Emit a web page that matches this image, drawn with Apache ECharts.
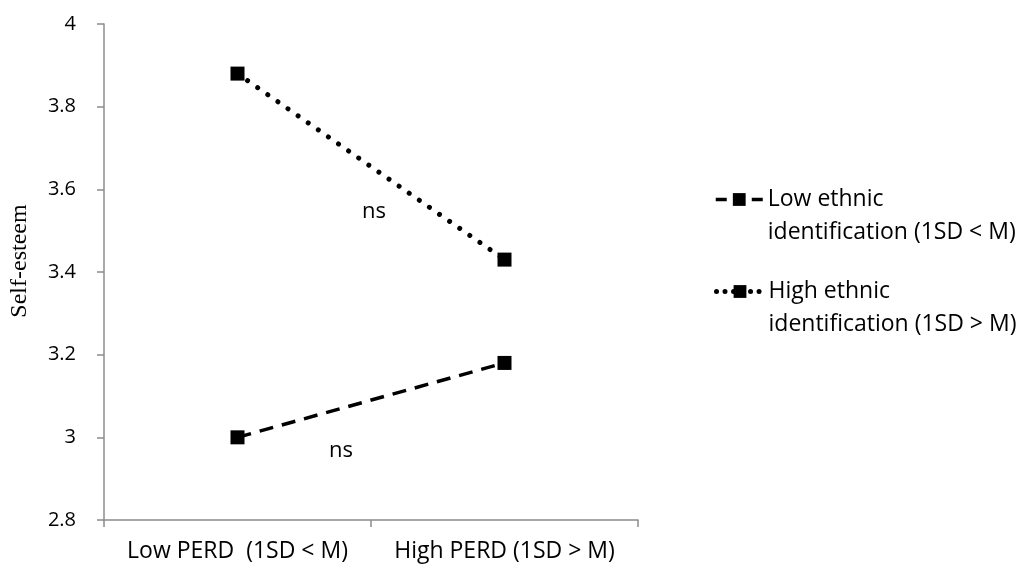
<!DOCTYPE html>
<html>
<head>
<meta charset="utf-8">
<script src="https://cdn.jsdelivr.net/npm/echarts@6/dist/echarts.min.js"></script>
<style>
  html, body { margin: 0; padding: 0; background: #ffffff; }
  #chart { width: 1026px; height: 570px; }
</style>
</head>
<body>
<div id="chart"></div>
<script>
// Simple slopes: self-esteem by perceived discrimination at two levels of ethnic identification
const categories = ['Low PERD  (1SD < M)', 'High PERD (1SD > M)'];
const lowEthnicName = 'Low ethnic\nidentification (1SD < M)';
const highEthnicName = 'High ethnic\nidentification (1SD > M)';
const lowEthnic = [3.00, 3.18];
const highEthnic = [3.88, 3.43];
const yMin = 2.8;
const yMax = 4;
const yStep = 0.2;

const axisGrey = '#8c8c8c';
const sansFont = '"Open Sans", "DejaVu Sans", sans-serif';
const serifFont = '"Liberation Serif", "DejaVu Serif", serif';

const chart = echarts.init(document.getElementById('chart'), null, { renderer: 'canvas' });

// One legend per series so each two-line entry can sit where it belongs.
// A leading blank line keeps the first text line level with the icon.
function legendFor(name, top, iconLine) {
  return {
    data: [name],
    orient: 'vertical',
    left: 709,
    top: top,
    itemWidth: 47,
    itemHeight: 16,
    selectedMode: false,
    formatter: n => ' \n' + n,
    lineStyle: iconLine,
    textStyle: {
      fontFamily: sansFont,
      fontSize: 23,
      color: '#000',
      lineHeight: 33
    }
  };
}

chart.setOption({
  animation: false,
  backgroundColor: '#ffffff',
  grid: { left: 100, right: 388, top: 24, bottom: 50, containLabel: false },
  legend: [
    legendFor(lowEthnicName, 145, { width: 3.5, type: [11, 25] }),
    legendFor(highEthnicName, 237, { width: 5, type: [0.01, 8.5], cap: 'round' })
  ],
  xAxis: {
    type: 'category',
    data: categories,
    boundaryGap: true,
    axisLine: { lineStyle: { color: axisGrey, width: 1.5 } },
    axisTick: { show: true, length: 7, lineStyle: { color: axisGrey, width: 1.5 } },
    axisLabel: { interval: 0, fontFamily: sansFont, fontSize: 23, color: '#000', margin: 20 }
  },
  yAxis: {
    type: 'value',
    min: yMin,
    max: yMax,
    interval: yStep,
    name: 'Self-esteem',
    nameLocation: 'middle',
    nameRotate: 90,
    nameGap: 72,
    nameTextStyle: { fontFamily: serifFont, fontSize: 24, color: '#000', padding: [0, 0, 0, 22] },
    axisLine: { show: true, lineStyle: { color: axisGrey, width: 1.5 } },
    axisTick: { show: true, length: 7, lineStyle: { color: axisGrey, width: 1.5 } },
    splitLine: { show: false },
    axisLabel: { fontFamily: sansFont, fontSize: 20, color: '#000', margin: 28 }
  },
  series: [
    {
      name: lowEthnicName,
      type: 'line',
      data: lowEthnic,
      symbol: 'rect',
      symbolSize: 14,
      itemStyle: { color: '#000' },
      lineStyle: { color: '#000', width: 3.5, type: [14, 9] }
    },
    {
      name: highEthnicName,
      type: 'line',
      data: highEthnic,
      symbol: 'rect',
      symbolSize: 14,
      itemStyle: { color: '#000' },
      lineStyle: { color: '#000', width: 5, type: [0.01, 12.3], cap: 'round' }
    }
  ],
  graphic: [
    { type: 'text', left: 362, top: 201, style: { text: 'ns', fontFamily: sansFont, fontSize: 22, fill: '#000' } },
    { type: 'text', left: 329, top: 440, style: { text: 'ns', fontFamily: sansFont, fontSize: 22, fill: '#000' } }
  ]
});
</script>
</body>
</html>
